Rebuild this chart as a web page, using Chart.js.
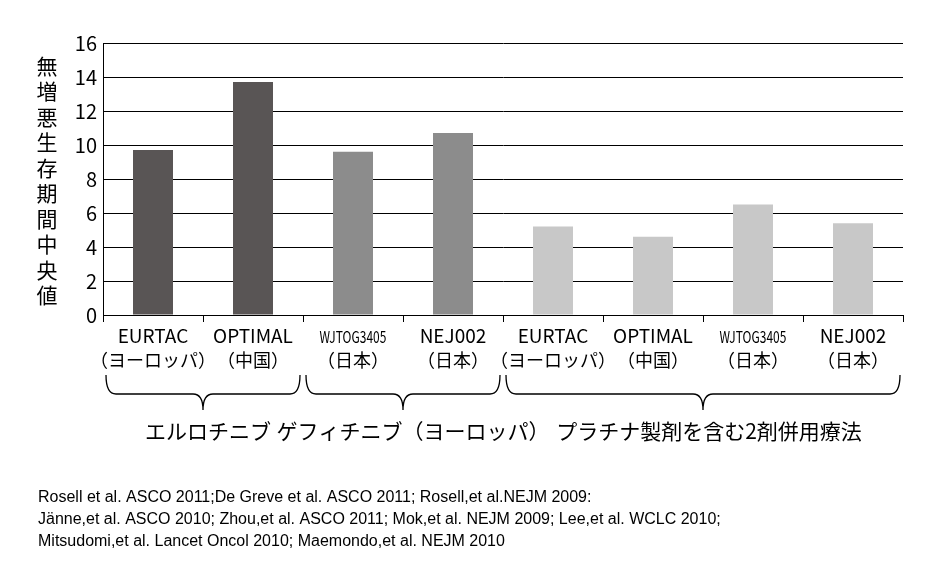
<!DOCTYPE html>
<html><head><meta charset="utf-8">
<script src="https://cdn.jsdelivr.net/npm/chart.js@4"></script>
<style>body{margin:0;background:#fff}#w{width:939px;height:579px}</style>
</head><body><div id="w"><canvas id="c"></canvas></div>
<script>
const labelsTop = ["EURTAC","OPTIMAL","WJTOG3405","NEJ002","EURTAC","OPTIMAL","WJTOG3405","NEJ002"];
const labelsBottom = ["（ヨーロッパ）","（中国）","（日本）","（日本）","（ヨーロッパ）","（中国）","（日本）","（日本）"];
const values = [9.7, 13.7, 9.6, 10.7, 5.2, 4.6, 6.5, 5.4];
const barColors = ["#595555","#595555","#8c8c8c","#8c8c8c","#c8c8c8","#c8c8c8","#c8c8c8","#c8c8c8"];
const groups = [
  {from:0,to:1,label:"エルロチニブ"},
  {from:2,to:3,label:"ゲフィチニブ（ヨーロッパ）"},
  {from:4,to:7,label:"プラチナ製剤を含む2剤併用療法"}
];
const yTitle = "無増悪生存期間中央値";
const footer = [
  "Rosell et al. ASCO 2011;De Greve et al. ASCO 2011; Rosell,et al.NEJM 2009:",
  "Jänne,et al. ASCO 2010; Zhou,et al. ASCO 2011; Mok,et al. NEJM 2009; Lee,et al. WCLC 2010;",
  "Mitsudomi,et al. Lancet Oncol 2010; Maemondo,et al. NEJM 2010"
];
const F = '"Noto Sans CJK JP", "Noto Sans", sans-serif';

const deco = {
  id:'deco',
  afterDraw(chart){
    const ctx = chart.ctx, xs = chart.scales.x, a = chart.chartArea;
    ctx.save();
    ctx.fillStyle = '#000'; ctx.strokeStyle = '#000';
    ctx.font = '21px ' + F; ctx.textAlign='center'; ctx.textBaseline='middle';
    [...yTitle].forEach((ch,i)=>ctx.fillText(ch, 47, 66 + i*25.5));
    ctx.lineWidth = 1;
    const step = (a.right - a.left)/labelsTop.length;
    for (let i=0;i<=labelsTop.length;i++){
      const x = Math.round(a.left + i*step)+0.5;
      ctx.beginPath(); ctx.moveTo(x,a.bottom); ctx.lineTo(x,a.bottom+7); ctx.stroke();
    }
    ctx.textBaseline='alphabetic';
    labelsTop.forEach((t,i)=>{
      const x = xs.getPixelForValue(i);
      if (t.startsWith('WJ')) { ctx.font = '15px "Liberation Sans Narrow", ' + F;
        ctx.save(); ctx.translate(x,343); ctx.scale(0.8,1.05); ctx.fillText(t,0,0); ctx.restore(); }
      else { ctx.font = '19px ' + F; ctx.fillText(t, x, 343); }
      ctx.font = '18px ' + F;
      ctx.fillText(labelsBottom[i], x, 367);
    });
    ctx.lineWidth = 1.3;
    groups.forEach(g=>{
      const x1 = xs.getPixelForValue(g.from) - step*0.47;
      const x2 = xs.getPixelForValue(g.to) + step*0.47;
      const xm = (x1+x2)/2, y0 = 375, y1 = 394, y2 = 410, r = 10;
      ctx.beginPath();
      ctx.moveTo(x1, y0);
      ctx.quadraticCurveTo(x1, y1, x1 + r, y1);
      ctx.lineTo(xm - r, y1);
      ctx.quadraticCurveTo(xm, y1, xm, y2);
      ctx.quadraticCurveTo(xm, y1, xm + r, y1);
      ctx.lineTo(x2 - r, y1);
      ctx.quadraticCurveTo(x2, y1, x2, y0);
      ctx.stroke();
    });
    ctx.font = '21px ' + F;
    ctx.fillText(groups[0].label, 208, 439);
    ctx.fillText(groups[1].label, 413, 439);
    ctx.fillText(groups[2].label, 709, 439);
    ctx.font = '16px "Liberation Sans", Arial, sans-serif'; ctx.textAlign='left';
    footer.forEach((l,i)=>ctx.fillText(l, 38, 502 + i*22));
    ctx.restore();
  }
};

new Chart(document.getElementById('c'), {
  type:'bar',
  data:{labels:labelsTop, datasets:[{data:values, backgroundColor:barColors, categoryPercentage:0.4, barPercentage:1}]},
  options:{
    responsive:true, maintainAspectRatio:false, animation:false,
    layout:{padding:{left:0,right:36,top:43,bottom:256}},
    plugins:{legend:{display:false}, tooltip:{enabled:false}},
    scales:{
      x:{grid:{display:false}, ticks:{display:false}, border:{color:'#000',width:1}},
      y:{min:0,max:16, ticks:{stepSize:2, color:'#000', font:{size:20, family:F}, padding:6},
         grid:{color:'#000', lineWidth:1, drawTicks:false}, border:{color:'#000',width:1},
         afterFit(s){ s.width = 103; }}
    }
  },
  plugins:[deco]
});
</script></body></html>
